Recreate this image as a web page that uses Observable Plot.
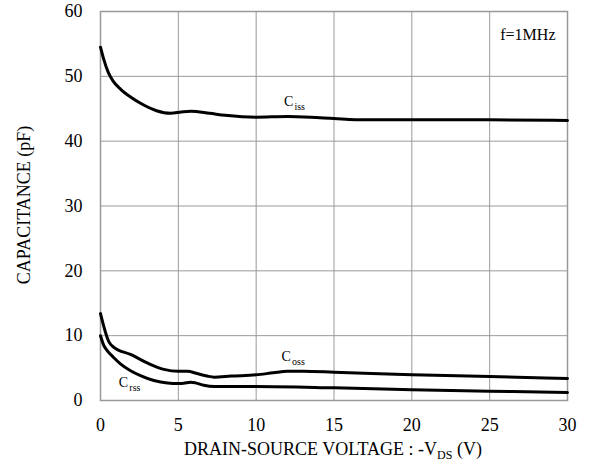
<!DOCTYPE html>
<html><head><meta charset="utf-8">
<script src="https://cdn.jsdelivr.net/npm/d3@7"></script>
<script src="https://cdn.jsdelivr.net/npm/@observablehq/plot@0.6"></script>
<style>
body{margin:0;background:#fff}
svg, svg text { font-family: "Liberation Serif", "Times New Roman", Times, serif !important; }
</style>
</head><body><div id="chart"></div>
<script>
// Ciss
const cissV = [0, 0.2, 0.5, 0.8, 1.3, 2, 2.6, 3.6, 4.5, 5.2, 5.8, 7, 8, 10, 12, 13.5, 15, 17, 20, 25, 30];
const cissC = [54.5, 52.7, 50.6, 49.3, 48.0, 46.7, 45.8, 44.7, 44.3, 44.5, 44.6, 44.3, 44.0, 43.7, 43.8, 43.7, 43.5, 43.3, 43.3, 43.3, 43.2];
// Coss
const cossV = [0, 0.55, 0.86, 1.93, 3.0, 4.07, 5, 5.6, 6.15, 6.85, 7.3, 8.4, 10, 11.1, 12, 13, 15, 20, 25, 30];
const cossC = [13.4, 9.0, 8.2, 7.1, 5.8, 4.8, 4.5, 4.5, 4.2, 3.77, 3.6, 3.77, 3.96, 4.27, 4.5, 4.5, 4.37, 3.96, 3.7, 3.4];
// Crss
const crssV = [0, 0.21, 0.43, 0.86, 1.28, 1.93, 2.57, 3.43, 4.3, 5, 5.35, 5.78, 6.1, 6.64, 7.3, 10, 15, 20, 25, 30];
const crssC = [10.0, 8.5, 7.7, 6.6, 5.66, 4.6, 3.84, 3.08, 2.7, 2.62, 2.66, 2.82, 2.72, 2.35, 2.16, 2.16, 1.95, 1.65, 1.43, 1.23];

const xTicks = [0, 5, 10, 15, 20, 25, 30];
const yTicks = [0, 10, 20, 30, 40, 50, 60];

const labelMain = ["C", "C", "C"];
const labelSub = ["iss", "oss", "rss"];
const labelV = [11.78, 11.63, 1.18];
const labelC = [46.1, 6.76, 2.75];

const toRows = (xs, ys) => xs.map((x, i) => ({x, y: ys[i]}));
const labels = labelMain.map((t, i) => ({x: labelV[i], y: labelC[i], t, s: labelSub[i]}));

const font = "Liberation Serif, Times New Roman, serif";

const plot = Plot.plot({
  width: 589,
  height: 465,
  marginLeft: 100,
  marginRight: 22,
  marginTop: 11,
  marginBottom: 65,
  style: {fontFamily: font, fontSize: "18px", color: "#000", background: "#fff"},
  x: {domain: [0, 30], ticks: xTicks, tickSize: 0, tickPadding: 18, label: null},
  y: {domain: [0, 60], ticks: yTicks, tickSize: 0, tickPadding: 18, label: null},
  marks: [
    Plot.gridX(xTicks, {stroke: "#999", strokeOpacity: 1, strokeWidth: 1}),
    Plot.gridY(yTicks, {stroke: "#999", strokeOpacity: 1, strokeWidth: 1}),
    Plot.frame({stroke: "#999", strokeWidth: 1.5}),
    Plot.line(toRows(cissV, cissC), {x: "x", y: "y", stroke: "#000", strokeWidth: 3, curve: "monotone-x"}),
    Plot.line(toRows(cossV, cossC), {x: "x", y: "y", stroke: "#000", strokeWidth: 3, curve: "monotone-x"}),
    Plot.line(toRows(crssV, crssC), {x: "x", y: "y", stroke: "#000", strokeWidth: 3, curve: "monotone-x"}),
    Plot.text(labels, {x: "x", y: "y", text: "t", textAnchor: "start", fontSize: 14, fill: "#000"}),
    Plot.text(labels, {x: "x", y: "y", text: "s", textAnchor: "start", fontSize: 10, dx: 10.5, dy: 5.6, fill: "#000"}),
    Plot.text(["f=1MHz"], {frameAnchor: "top-right", text: d => d, dx: -12, dy: 17.5, fontSize: 16, fill: "#000"})
  ]
});

const svg = d3.select(plot);
// y-axis label
svg.append("text")
  .attr("transform", "translate(29.5,205) rotate(-90)")
  .attr("text-anchor", "middle")
  .attr("font-size", 18)
  .attr("fill", "#000")
  .text("CAPACITANCE (pF)");
// x-axis label with subscript
const xl = svg.append("text")
  .attr("x", 333)
  .attr("y", 455)
  .attr("text-anchor", "middle")
  .attr("font-size", 18)
  .attr("fill", "#000");
xl.append("tspan").text("DRAIN-SOURCE VOLTAGE : -V");
xl.append("tspan").attr("font-size", 12).attr("dy", 4).text("DS");
xl.append("tspan").attr("dy", -4).text(" (V)");

document.getElementById("chart").appendChild(plot);
</script>
</body></html>
